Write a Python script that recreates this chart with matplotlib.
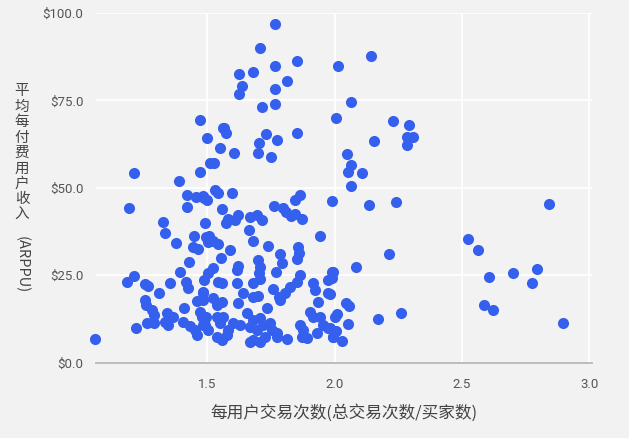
import matplotlib
matplotlib.use("Agg")
import matplotlib.pyplot as plt
from matplotlib.ticker import FuncFormatter

# transactions per buyer (x) vs ARPPU in $ (y)
trans_per_buyer = [
    1.471, 1.765, 1.706, 1.853, 1.765, 2.012, 1.624, 1.678, 1.814, 1.637,
    1.625, 1.765, 1.715, 1.765, 2.005, 1.565, 2.144, 2.064, 2.230, 2.293,
    2.153, 2.285, 2.306, 2.285, 2.047, 2.064, 2.053, 2.107, 2.064, 1.990,
    2.136, 2.242, 2.843, 2.522, 2.564, 2.606, 2.699, 2.794, 2.776, 2.588,
    2.621, 2.896, 2.213, 2.085, 1.992, 1.988, 1.981, 2.043, 2.057, 2.010,
    2.051, 2.171, 2.262, 1.981, 2.007, 1.994, 2.027, 1.497, 1.510, 1.212,
    1.472, 1.387, 1.421, 1.455, 1.486, 1.190, 1.421, 1.326, 1.489, 1.333,
    1.446, 1.494, 1.375, 1.562, 1.573, 1.729, 1.850, 1.549, 1.604, 1.701,
    1.774, 1.697, 1.751, 1.526, 1.529, 1.542, 1.484, 1.499, 1.595, 1.863,
    1.843, 1.761, 1.798, 1.808, 1.827, 1.870, 1.844, 1.556, 1.621, 1.582,
    1.573, 1.608, 1.667, 1.693, 1.713, 1.664, 1.942, 1.507, 1.523, 1.680,
    1.444, 1.464, 1.429, 1.392, 1.212, 1.183, 1.254, 1.267, 1.353, 1.416,
    1.425, 1.486, 1.311, 1.254, 1.258, 1.481, 1.458, 1.408, 1.281, 1.288,
    1.342, 1.366, 1.333, 1.346, 1.261, 1.290, 1.219, 1.405, 1.431, 1.451,
    1.458, 1.484, 1.059, 1.494, 1.471, 1.503, 1.543, 1.588, 1.739, 1.857,
    1.861, 1.850, 1.785, 1.791, 1.769, 1.700, 1.706, 1.704, 1.552, 1.621,
    1.615, 1.523, 1.503, 1.542, 1.556, 1.615, 1.678, 1.706, 1.641, 1.680,
    1.700, 1.756, 1.863, 1.824, 1.804, 1.785, 1.850, 1.782, 1.916, 1.922,
    1.988, 1.975, 1.975, 1.484, 1.484, 1.523, 1.536, 1.556, 1.621, 1.733,
    1.477, 1.490, 1.503, 1.536, 1.562, 1.549, 1.601, 1.628, 1.582, 1.575,
    1.536, 1.556, 1.654, 1.680, 1.706, 1.667, 1.693, 1.719, 1.746, 1.752,
    1.680, 1.706, 1.667, 1.726, 1.772, 1.772, 1.811, 1.863, 1.876, 1.870,
    1.890, 1.903, 1.916, 1.935, 1.942, 1.955, 1.929, 1.975, 2.000, 1.994,
]
arppu = [
    69.4, 96.9, 90.1, 86.4, 84.7, 84.7, 82.5, 83.0, 80.6, 79.1,
    76.7, 78.3, 73.2, 74.0, 70.0, 67.0, 87.8, 74.6, 69.0, 68.0,
    63.5, 64.4, 64.4, 62.1, 59.7, 56.4, 54.4, 54.3, 50.6, 46.3,
    45.0, 45.9, 45.3, 35.3, 32.2, 24.5, 25.5, 26.8, 22.7, 16.5,
    15.1, 11.3, 31.0, 27.2, 25.9, 24.1, 19.6, 17.0, 16.3, 13.8,
    11.1, 12.4, 14.2, 9.8, 9.1, 7.4, 6.2, 64.3, 57.0, 54.3,
    54.4, 51.8, 47.8, 47.4, 47.1, 44.1, 44.6, 40.3, 39.8, 37.0,
    36.3, 36.0, 34.1, 67.0, 65.6, 65.4, 65.6, 61.3, 60.0, 62.9,
    63.6, 60.0, 58.7, 57.0, 49.4, 48.6, 47.7, 46.5, 48.6, 47.8,
    46.4, 44.9, 44.1, 43.1, 41.9, 41.1, 42.4, 43.9, 42.2, 41.1,
    39.8, 40.8, 41.5, 42.2, 40.8, 37.9, 36.2, 36.2, 34.8, 34.8,
    33.1, 32.4, 28.8, 25.8, 24.7, 23.0, 22.4, 21.9, 22.8, 23.0,
    21.2, 23.6, 19.8, 17.9, 16.5, 20.3, 17.7, 15.5, 15.0, 13.6,
    14.1, 12.9, 11.7, 10.7, 11.4, 11.2, 9.8, 11.7, 10.4, 9.3,
    7.9, 10.7, 6.8, 13.1, 14.5, 34.6, 33.9, 32.2, 33.3, 33.1,
    31.2, 29.5, 31.0, 28.4, 26.0, 29.3, 27.4, 25.5, 29.8, 27.6,
    26.5, 27.0, 25.5, 23.1, 22.7, 22.7, 22.8, 23.8, 19.8, 18.8,
    19.0, 20.9, 25.0, 21.7, 19.8, 17.9, 23.1, 18.8, 22.7, 20.7,
    26.0, 23.6, 19.8, 19.8, 17.9, 18.4, 16.5, 17.4, 16.9, 15.5,
    13.1, 10.7, 9.3, 13.1, 13.1, 11.2, 11.4, 10.7, 9.3, 7.8,
    7.4, 6.4, 14.1, 12.2, 12.6, 10.2, 9.3, 10.7, 11.2, 9.3,
    6.4, 6.0, 6.0, 7.4, 8.3, 7.4, 6.6, 10.7, 9.3, 7.4,
    6.9, 14.5, 13.1, 17.4, 13.1, 10.7, 8.4, 9.8, 13.1, 7.4,
]
x_ticks = [1.5, 2.0, 2.5, 3.0]
y_ticks = [0, 25, 50, 75, 100]
y_label_cn = "平均每付费用户收入"
y_label_en = "(ARPPU)"
x_label = "每用户交易次数(总交易次数/买家数)"

BG = "#f2f2f2"
DOT = "#3560ee"

plt.rcParams['font.family'] = ['Noto Sans CJK SC', 'DejaVu Sans']

fig = plt.figure(figsize=(6.29, 4.38), dpi=100, facecolor=BG)
ax = fig.add_axes([96 / 629, 1 - 362.5 / 438, (592 - 96) / 629, (362.5 - 13) / 438])
ax.set_facecolor(BG)

ax.scatter(trans_per_buyer, arppu, s=64, color=DOT, linewidths=0, zorder=3, clip_on=False)

ax.set_xlim(1.062, 3.011)
ax.set_ylim(0, 100)
ax.set_xticks(x_ticks)
ax.set_yticks(y_ticks)
ax.xaxis.set_major_formatter(FuncFormatter(lambda v, p: f"{v:.1f}"))
ax.yaxis.set_major_formatter(FuncFormatter(lambda v, p: f"${v:.1f}"))

ax.grid(color="white", linewidth=1.3, zorder=1)
ax.set_axisbelow(True)
for side in ["top", "right", "left"]:
    ax.spines[side].set_visible(False)
ax.spines["bottom"].set_color("#b8b8b8")
ax.spines["bottom"].set_linewidth(1.3)
ax.spines["bottom"].set_zorder(2)

ax.tick_params(length=0, labelsize=9.5, colors="#555555")
ax.tick_params(axis="y", pad=9)
ax.tick_params(axis="x", pad=11)
for lbl in ax.get_xticklabels() + ax.get_yticklabels():
    lbl.set_fontfamily(['Roboto', 'DejaVu Sans'])

ax.set_xlabel(x_label, fontsize=12, color="#444444", labelpad=10)

# stacked vertical chinese label, then rotated latin part
fig.text(22 / 629, 1 - 153 / 438, "\n".join(y_label_cn), fontsize=10.5, color="#444444",
         ha="center", va="center", linespacing=1.13)
fig.text(22 / 629, 1 - 265 / 438, y_label_en, fontsize=10.5, color="#444444",
         ha="center", va="center", rotation=270)

fig.savefig("out.png", dpi=100, facecolor=BG)
